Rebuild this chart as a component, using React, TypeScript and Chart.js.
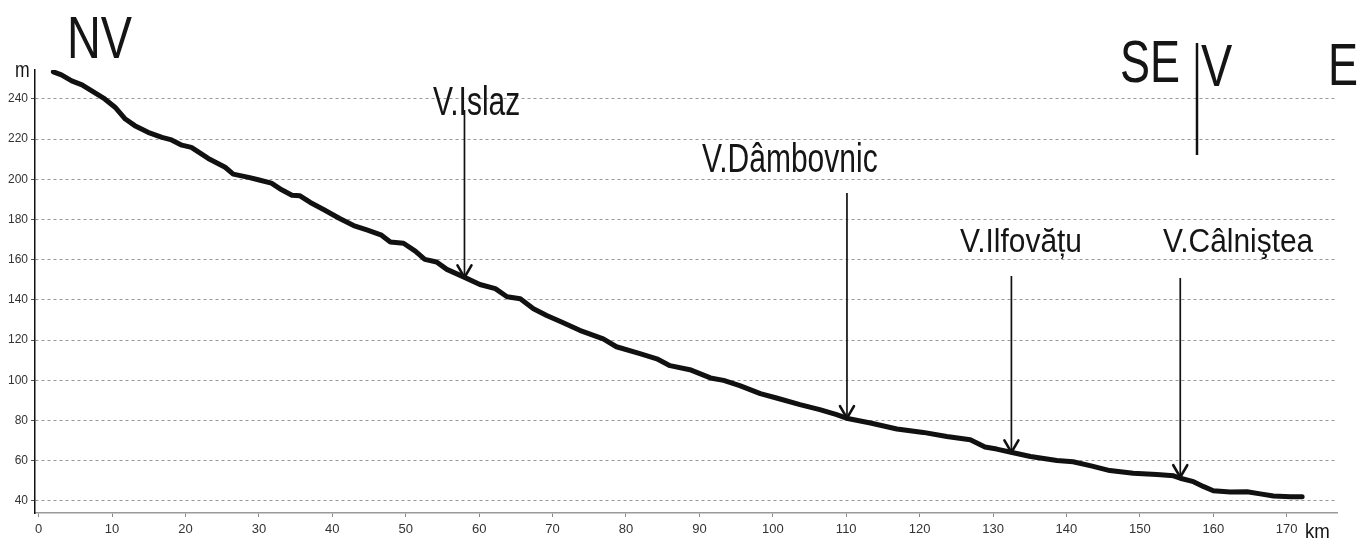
import React, { useEffect, useRef } from "react";
import { Chart, registerables } from "chart.js";

Chart.register(...registerables);

// Longitudinal profile: distance (km) and elevation (m)
const DIST_KM = [
  2.0, 3.1, 4.5, 5.9, 7.4, 9.0, 10.4, 11.8, 13.1, 14.9, 16.8, 18.1, 19.5, 20.8,
  23.1, 25.4, 26.5, 28.6, 29.9, 31.7, 33.1, 34.5, 35.6, 37.0, 38.8, 41.0, 42.9,
  44.7, 46.7, 47.9, 49.7, 51.3, 52.6, 54.2, 55.6, 57.8, 60.1, 62.2, 63.8, 65.6,
  67.4, 69.2, 71.3, 73.7, 76.9, 78.7, 81.9, 84.2, 86.0, 88.7, 91.5, 93.3, 95.5,
  98.3, 100.5, 103.7, 106.4, 108.7, 110.2, 113.3, 116.9, 120.5, 123.7, 126.9,
  128.9, 130.5, 132.6, 135.1, 138.7, 140.9, 143.5, 145.9, 149.1, 152.3, 154.6,
  155.5, 157.3, 158.7, 160.0, 162.3, 164.6, 166.4, 168.2, 170.5, 172.1,
];
const ELEV_M = [
  253.5, 252, 249, 247, 243.6, 240, 235.9, 230, 226.7, 223.4, 220.9, 219.6, 217,
  215.9, 210.4, 206, 202.6, 201, 199.8, 198.1, 194.8, 192.1, 191.8, 188.5, 185,
  180.5, 177, 174.8, 172.2, 168.8, 168.2, 164.3, 160.2, 158.9, 155.2, 151.6,
  147.7, 145.6, 141.6, 140.6, 135.6, 132.3, 128.9, 124.9, 120.6, 116.7, 113.3,
  110.7, 107.3, 105.3, 101.2, 100, 97.4, 93.4, 91.2, 87.9, 85.4, 82.9, 81, 78.8,
  75.8, 74.1, 72.1, 70.4, 66.8, 65.8, 64.1, 62.1, 60.1, 59.5, 57.3, 55.1, 53.8,
  53.1, 52.5, 51.3, 49.6, 47.1, 45.1, 44.5, 44.6, 43.5, 42.5, 42.1, 42.1,
];

const X_TICKS = [0, 10, 20, 30, 40, 50, 60, 70, 80, 90, 100, 110, 120, 130, 140, 150, 160, 170];
const Y_TICKS = [40, 60, 80, 100, 120, 140, 160, 180, 200, 220, 240];

// Tributary confluences (arrows)
const TRIB_NAMES = ["V.Islaz", "V.Dâmbovnic", "V.Ilfovățu", "V.Câlniştea"];
const TRIB_KM = [58, 110.1, 132.5, 155.5];
const TRIB_ELEV = [151.2, 81.2, 64.2, 51.8];

// Layout of the annotation labels (pixels)
const TRIB_LAYOUT = [
  { tx: 433, ty: 115, size: 40, sx: 0.75, top: 110 },
  { tx: 702, ty: 172, size: 40, sx: 0.75, top: 193 },
  { tx: 960, ty: 252, size: 34, sx: 0.88, top: 276 },
  { tx: 1163, ty: 252, size: 34, sx: 0.88, top: 278 },
];

const FONT = '"Liberation Sans", Arial, sans-serif';

function drawText(ctx: CanvasRenderingContext2D, text: string, x: number, y: number, size: number, sx: number) {
  ctx.save();
  ctx.translate(x, y);
  ctx.scale(sx, 1);
  ctx.font = `${size}px ${FONT}`;
  ctx.fillStyle = "#151515";
  ctx.textAlign = "left";
  ctx.textBaseline = "alphabetic";
  ctx.fillText(text, 0, 0);
  ctx.restore();
}

const annotPlugin = {
  id: "profileAnnotations",
  afterDraw(chart: any) {
    const ctx: CanvasRenderingContext2D = chart.ctx;
    const xs = chart.scales.x;
    const ys = chart.scales.y;

    // arrows
    TRIB_KM.forEach((km, i) => {
      const px = xs.getPixelForValue(km);
      const py = ys.getPixelForValue(TRIB_ELEV[i]);
      const lay = TRIB_LAYOUT[i];
      ctx.save();
      ctx.strokeStyle = "#111";
      ctx.lineWidth = 1.7;
      ctx.beginPath();
      ctx.moveTo(px, lay.top);
      ctx.lineTo(px, py);
      ctx.stroke();
      ctx.lineWidth = 2.6;
      ctx.lineCap = "round";
      ctx.beginPath();
      ctx.moveTo(px - 7, py - 12);
      ctx.lineTo(px, py);
      ctx.lineTo(px + 7, py - 12);
      ctx.stroke();
      ctx.restore();
      drawText(ctx, TRIB_NAMES[i], lay.tx, lay.ty, lay.size, lay.sx);
    });

    // direction letters
    drawText(ctx, "NV", 67, 58, 60, 0.78);
    drawText(ctx, "SE", 1120, 82, 60, 0.75);
    drawText(ctx, "V", 1201, 86, 60, 0.78);
    drawText(ctx, "E", 1328, 85, 60, 0.75);
    ctx.save();
    ctx.strokeStyle = "#111";
    ctx.lineWidth = 2.5;
    ctx.beginPath();
    ctx.moveTo(1197, 43);
    ctx.lineTo(1197, 155);
    ctx.stroke();
    ctx.restore();

    // axis units
    drawText(ctx, "m", 15, 77, 22, 0.8);
    drawText(ctx, "km", 1305, 538, 21, 0.89);
  },
};

export default function App() {
  const ref = useRef<HTMLCanvasElement>(null);

  useEffect(() => {
    if (!ref.current) return;
    const points = DIST_KM.map((x, i) => ({ x, y: ELEV_M[i] }));
    const chart = new Chart(ref.current, {
      type: "line",
      data: {
        datasets: [
          {
            data: points,
            borderColor: "#111",
            borderWidth: 5,
            pointRadius: 0,
            tension: 0,
            borderJoinStyle: "round",
            borderCapStyle: "round",
            fill: false,
          },
        ],
      },
      options: {
        responsive: false,
        animation: false,
        layout: { padding: { top: 70, right: 22, left: 0, bottom: 0 } },
        plugins: { legend: { display: false }, tooltip: { enabled: false } },
        scales: {
          x: {
            type: "linear",
            min: -0.5,
            max: 176.85,
            afterBuildTicks: (scale: any) => {
              scale.ticks = X_TICKS.map((v) => ({ value: v }));
            },
            afterFit: (scale: any) => {
              scale.height = 27;
            },
            grid: { drawOnChartArea: false, drawTicks: true, tickLength: 4, tickColor: "#888", tickWidth: 1 },
            border: { display: true, color: "#999", width: 1.5 },
            ticks: {
              color: "#333",
              padding: 5,
              maxRotation: 0,
              autoSkip: false,
              font: { family: FONT, size: 13 },
              callback: (v: any) => String(v),
            },
          },
          y: {
            type: "linear",
            min: 34,
            max: 254.4,
            afterBuildTicks: (scale: any) => {
              scale.ticks = Y_TICKS.map((v) => ({ value: v }));
            },
            afterFit: (scale: any) => {
              scale.width = 35;
            },
            grid: { color: "#999", lineWidth: 1, drawTicks: true, tickLength: 4, tickColor: "#555", tickWidth: 1 },
            border: { display: true, color: "#111", width: 1.5, dash: [3, 3] },
            ticks: {
              color: "#333",
              padding: 3,
              autoSkip: false,
              font: { family: FONT, size: 12 },
              callback: (v: any) => String(v),
            },
          },
        },
      },
      plugins: [annotPlugin],
    });
    return () => chart.destroy();
  }, []);

  return (
    <div style={{ position: "absolute", left: 0, top: 0, width: 1359, height: 540, background: "#fff" }}>
      <canvas ref={ref} width={1359} height={540} style={{ width: 1359, height: 540, display: "block" }} />
    </div>
  );
}
